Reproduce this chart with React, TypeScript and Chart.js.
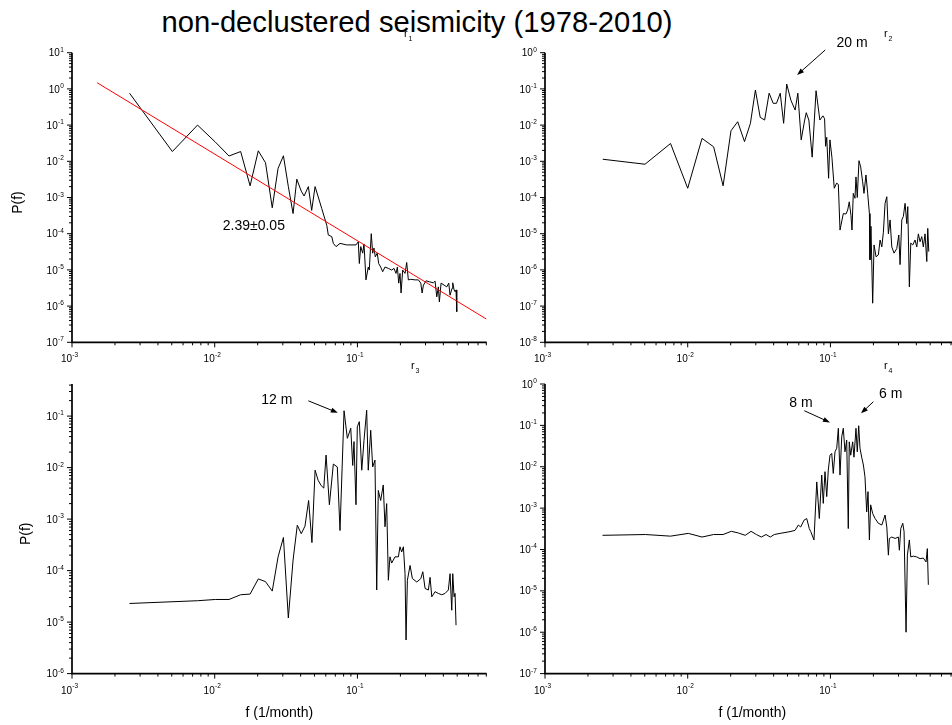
import React, { useEffect, useRef } from "react";
import { Chart, registerables } from "chart.js";

Chart.register(...registerables);

// ---------------- data ----------------
// r1 : power spectrum, with power-law fit
const p1Freq = [0.00253, 0.00505, 0.00758, 0.0101, 0.0126, 0.0152, 0.0177, 0.0202, 0.0227, 0.0253, 0.0278, 0.0303, 0.0328, 0.0354, 0.0376, 0.0404, 0.0423, 0.0453, 0.0478, 0.0505, 0.0562, 0.061, 0.0625, 0.0661, 0.0678, 0.0708, 0.0755, 0.0841, 0.0977, 0.1014, 0.1031, 0.1055, 0.1089, 0.1112, 0.1148, 0.1191, 0.1211, 0.125, 0.1279, 0.1306, 0.1334, 0.1377, 0.1409, 0.1455, 0.1503, 0.156, 0.1647, 0.1738, 0.1804, 0.1864, 0.1905, 0.1947, 0.1987, 0.2022, 0.2075, 0.2156, 0.2214, 0.2274, 0.2365, 0.2535, 0.2674, 0.278, 0.284, 0.29, 0.3028, 0.3193, 0.3405, 0.35, 0.3597, 0.369, 0.375, 0.3855, 0.4046, 0.4227, 0.4365, 0.4457, 0.4603, 0.4656, 0.4755, 0.4833, 0.4909, 0.4966];
const p1Power = [0.76, 0.0186, 0.1, 0.034, 0.014, 0.0186, 0.0021, 0.0195, 0.0091, 0.00052, 0.0064, 0.0142, 0.002, 0.00036, 0.0032, 0.0015, 0.0011, 0.002, 0.00044, 0.002, 0.0005, 0.00017, 9.2e-5, 8.3e-5, 5.4e-5, 4.4e-5, 5.4e-5, 4.9e-5, 4.9e-5, 6.0e-5, 1.5e-5, 4.4e-5, 2.9e-5, 5.2e-5, 5.3e-6, 1.2e-5, 9.9e-6, 1.0e-4, 2.9e-5, 4.0e-5, 2.3e-5, 2.9e-5, 1.5e-5, 1.2e-5, 8.9e-6, 1.2e-5, 1.1e-5, 9.9e-6, 1.1e-5, 8.0e-6, 1.2e-5, 4.3e-6, 8.0e-6, 2.3e-6, 9.9e-6, 8.0e-6, 1.6e-5, 5.3e-6, 5.5e-6, 5.3e-6, 5.3e-6, 4.3e-6, 2.3e-6, 3.8e-6, 5.0e-6, 4.7e-6, 4.4e-6, 4.9e-6, 1.8e-6, 3.4e-6, 1.3e-6, 4.3e-6, 3.8e-6, 3.4e-6, 4.3e-6, 2.0e-6, 3.1e-6, 4.4e-6, 2.8e-6, 2.5e-6, 2.8e-6, 7.0e-7];
const fitFreq = [0.0015, 0.8];
const fitPower = [1.48, 4.4e-7];

// r2
const p2Freq = [0.00254, 0.00502, 0.00758, 0.01, 0.0126, 0.0152, 0.0177, 0.0201, 0.0224, 0.025, 0.0275, 0.0298, 0.0322, 0.0346, 0.0372, 0.0397, 0.0419, 0.0445, 0.047, 0.0494, 0.0528, 0.0566, 0.0591, 0.0624, 0.066, 0.0677, 0.0706, 0.0745, 0.0793, 0.0843, 0.0886, 0.091, 0.0925, 0.0942, 0.0971, 0.0992, 0.1024, 0.1064, 0.1105, 0.1136, 0.1167, 0.1231, 0.1285, 0.1321, 0.1355, 0.1393, 0.1416, 0.1446, 0.1486, 0.151, 0.1542, 0.1585, 0.1629, 0.1682, 0.1718, 0.1774, 0.1824, 0.1875, 0.1893, 0.1923, 0.1977, 0.2021, 0.2088, 0.2167, 0.2228, 0.2291, 0.235, 0.2415, 0.2483, 0.2547, 0.2618, 0.2692, 0.2792, 0.2917, 0.3013, 0.3076, 0.3162, 0.3243, 0.3334, 0.3428, 0.3483, 0.3573, 0.3656, 0.3776, 0.3917, 0.4027, 0.4131, 0.4246, 0.4365, 0.4477, 0.4603, 0.4732, 0.4808, 0.4887];
const p2Power = [0.00114, 0.00083, 0.0031, 0.00018, 0.0043, 0.0025, 0.00021, 0.007, 0.0124, 0.0035, 0.0112, 0.093, 0.0164, 0.0138, 0.076, 0.04, 0.04, 0.076, 0.0112, 0.136, 0.049, 0.026, 0.076, 0.0039, 0.0138, 0.022, 0.0138, 0.0013, 0.089, 0.0138, 0.018, 0.015, 0.0026, 0.0046, 0.00034, 0.0039, 0.0013, 0.00018, 0.00025, 0.00023, 1.26e-5, 3.6e-5, 3.5e-5, 4.5e-5, 7.6e-5, 3.2e-5, 1.26e-5, 1.3e-4, 9.5e-5, 3.7e-4, 1.0e-4, 1.04e-3, 7e-4, 2.7e-4, 1.3e-4, 4.2e-4, 1.3e-4, 3.6e-5, 1.9e-6, 1.6e-5, 1.2e-7, 4.9e-6, 2.3e-6, 2.6e-6, 6.7e-6, 4.3e-6, 1.1e-5, 6.9e-5, 1.05e-4, 9.9e-6, 2.4e-5, 4.3e-6, 2.9e-6, 3.9e-6, 9.2e-6, 1.4e-6, 2.4e-5, 3.0e-5, 6.9e-5, 1.9e-5, 5.6e-5, 3.4e-7, 5.5e-6, 4.9e-6, 6.7e-6, 4.3e-6, 9.9e-6, 6.0e-6, 8.3e-6, 4.3e-6, 9.9e-6, 1.7e-6, 1.4e-5, 3.2e-6];

// r3
const p3Freq = [0.00253, 0.00758, 0.0101, 0.0126, 0.0152, 0.0177, 0.0202, 0.0227, 0.0253, 0.0278, 0.0303, 0.0328, 0.0354, 0.0379, 0.0404, 0.0429, 0.0455, 0.048, 0.0505, 0.053, 0.0556, 0.0581, 0.0603, 0.0636, 0.0678, 0.0723, 0.0755, 0.0806, 0.085, 0.0898, 0.0927, 0.0946, 0.0977, 0.0998, 0.1031, 0.1072, 0.1112, 0.1161, 0.1191, 0.1239, 0.1279, 0.1327, 0.1365, 0.14, 0.1455, 0.1517, 0.156, 0.1603, 0.1647, 0.169, 0.1738, 0.1834, 0.1936, 0.1987, 0.2042, 0.2099, 0.2156, 0.2191, 0.2239, 0.2338, 0.2427, 0.2606, 0.278, 0.2871, 0.2979, 0.3141, 0.3228, 0.3319, 0.35, 0.369, 0.3899, 0.4111, 0.4335, 0.4457, 0.4581, 0.4656, 0.4755, 0.4833, 0.4909];
const p3Power = [2.3e-5, 2.6e-5, 2.75e-5, 2.75e-5, 3.4e-5, 3.5e-5, 6.9e-5, 6.1e-5, 4.0e-5, 1.85e-4, 4.4e-4, 1.2e-5, 1.6e-4, 7.6e-4, 5.2e-4, 7.3e-4, 2.3e-3, 3.5e-4, 8.9e-3, 5.7e-3, 4.5e-3, 4.0e-3, 0.0175, 1.9e-3, 0.0117, 0.0103, 6e-4, 0.127, 0.037, 0.058, 0.011, 0.032, 1.9e-3, 0.062, 0.078, 0.0089, 0.034, 0.13, 0.0089, 0.053, 0.0103, 0.014, 4.2e-5, 3.6e-3, 2.3e-3, 4.6e-3, 7.1e-4, 2e-3, 6.5e-5, 1.85e-4, 1.4e-4, 1.85e-4, 1.85e-4, 2.9e-4, 2.3e-4, 2.9e-4, 8.7e-5, 4.5e-6, 6.5e-5, 1.26e-4, 7e-5, 6e-5, 7e-5, 9.5e-5, 4.5e-5, 4.2e-5, 7.4e-5, 3.1e-5, 3.9e-5, 3.6e-5, 3.4e-5, 3.6e-5, 4.2e-5, 8.7e-5, 1.7e-5, 8.7e-5, 3.1e-5, 3.6e-5, 8.7e-6];

// r4
const p4Freq = [0.00253, 0.00505, 0.00758, 0.0101, 0.0126, 0.0152, 0.0177, 0.0202, 0.0227, 0.0253, 0.0278, 0.0303, 0.0328, 0.0354, 0.0379, 0.0404, 0.0444, 0.0521, 0.0565, 0.0596, 0.0619, 0.0653, 0.0682, 0.0711, 0.0728, 0.0767, 0.0802, 0.0836, 0.0869, 0.0891, 0.0916, 0.0942, 0.0966, 0.0993, 0.1021, 0.1047, 0.1077, 0.1107, 0.1136, 0.1167, 0.12, 0.1231, 0.1265, 0.13, 0.1334, 0.1355, 0.1387, 0.1432, 0.1462, 0.151, 0.1542, 0.1578, 0.1611, 0.1656, 0.1702, 0.1746, 0.1795, 0.1834, 0.1875, 0.1914, 0.1977, 0.2056, 0.2167, 0.2291, 0.2415, 0.2483, 0.2547, 0.2588, 0.2692, 0.2838, 0.2992, 0.3041, 0.3112, 0.3213, 0.3281, 0.3388, 0.3461, 0.3573, 0.3656, 0.3811, 0.4027, 0.4246, 0.4477, 0.4677, 0.4775, 0.4853];
const p4Power = [2.2e-4, 2.3e-4, 2.1e-4, 2.45e-4, 2.0e-4, 2.3e-4, 2.3e-4, 2.75e-4, 2.5e-4, 2.2e-4, 2.75e-4, 2.3e-4, 2.0e-4, 2.3e-4, 2.0e-4, 2.3e-4, 2.45e-4, 2.7e-4, 2.9e-4, 3.9e-4, 3.5e-4, 5.1e-4, 5.6e-4, 3.2e-4, 2.7e-4, 1.7e-4, 4.3e-3, 5.6e-4, 6.3e-3, 1.3e-3, 7.6e-3, 1.9e-3, 8.3e-3, 0.019, 0.021, 6.9e-3, 0.023, 0.028, 0.085, 6.3e-3, 0.053, 0.085, 0.023, 0.044, 3.2e-4, 0.04, 0.019, 0.04, 0.017, 0.085, 0.023, 0.098, 0.028, 0.017, 0.011, 5.7e-3, 8.1e-4, 2.5e-3, 1.7e-4, 1.2e-3, 7.4e-4, 5.6e-4, 4.3e-4, 3.9e-4, 6.8e-4, 3.5e-4, 7.3e-5, 1.85e-4, 2.0e-4, 1.85e-4, 2.0e-4, 9.6e-5, 3.2e-4, 4.3e-4, 2.7e-4, 1.0e-6, 7.3e-5, 1.7e-4, 6.6e-5, 6.9e-5, 6.6e-5, 6.0e-5, 6.2e-5, 5.0e-5, 1.05e-4, 1.4e-5];

// axis ranges
const xRange = [1e-3, 0.805];
const yRange1 = [1e-7, 10];
const yRange2 = [1e-8, 1];
const yRange3 = [1e-6, 0.42];
const yRange4 = [1e-7, 1];

// annotations: text and arrows in data coordinates (f, P)
type Note = { text: string; f: number; p: number; arrow?: [number, number, number, number] };
const notes1: Note[] = [{ text: "2.39\u00B10.05", f: 0.0188, p: 1.66e-4 }];
const notes2: Note[] = [{ text: "20 m", f: 0.1416, p: 1.82, arrow: [0.092, 1.19, 0.0584, 0.242] }];
const notes3: Note[] = [{ text: "12 m", f: 0.0272, p: 0.205, arrow: [0.0453, 0.198, 0.0729, 0.116] }];
const notes4: Note[] = [
  { text: "8 m", f: 0.0622, p: 0.341, arrow: [0.0656, 0.226, 0.0993, 0.118] },
  { text: "6 m", f: 0.2646, p: 0.573, arrow: [0.2, 0.373, 0.1637, 0.195] },
];

const TITLE = "non-declustered seismicity (1978-2010)";
const Y_TITLE = "P(f)";
const X_TITLE = "f (1/month)";

// ---------------- layout ----------------
const FONT = "'Liberation Sans', Arial, Helvetica, sans-serif";
const PLOT_W = 414.7;
const PLOT_H = 289.6;
const CW = 507;
const CH = 395;

type Spec = {
  key: string;
  canvasLeft: number;
  canvasTop: number;
  padLeft: number;
  padTop: number;
  freq: number[];
  power: number[];
  yRange: number[];
  fitF?: number[];
  fitP?: number[];
  tag: string;
  tagDx: number;
  yTitleDx?: number;
  xTitle?: boolean;
  notes: Note[];
};

const specs: Spec[] = [
  { key: "1", canvasLeft: 0, canvasTop: 0, padLeft: 72, padTop: 52.7, freq: p1Freq, power: p1Power, yRange: yRange1, fitF: fitFreq, fitP: fitPower, tag: "1", tagDx: 332, yTitleDx: -53.7, notes: notes1 },
  { key: "2", canvasLeft: 473, canvasTop: 0, padLeft: 72, padTop: 52.7, freq: p2Freq, power: p2Power, yRange: yRange2, tag: "2", tagDx: 339, notes: notes2 },
  { key: "3", canvasLeft: 0, canvasTop: 331, padLeft: 72, padTop: 53, freq: p3Freq, power: p3Power, yRange: yRange3, tag: "3", tagDx: 339, yTitleDx: -46.2, xTitle: true, notes: notes3 },
  { key: "4", canvasLeft: 473, canvasTop: 331, padLeft: 72, padTop: 53, freq: p4Freq, power: p4Power, yRange: yRange4, tag: "4", tagDx: 339, xTitle: true, notes: notes4 },
];

function drawPow(ctx: CanvasRenderingContext2D, x: number, y: number, exp: string, mode: "x" | "y") {
  ctx.font = `10px ${FONT}`;
  const w1 = ctx.measureText("10").width;
  ctx.font = `6.5px ${FONT}`;
  const w2 = ctx.measureText(exp).width;
  ctx.textAlign = "left";
  ctx.textBaseline = "alphabetic";
  if (mode === "y") {
    const sx = x - w1 - w2;
    ctx.font = `10px ${FONT}`;
    ctx.fillText("10", sx, y + 3.6);
    ctx.font = `6.5px ${FONT}`;
    ctx.fillText(exp, sx + w1 + 0.3, y - 1);
  } else {
    const sx = x - w1;
    ctx.font = `10px ${FONT}`;
    ctx.fillText("10", sx, y + 6.6);
    ctx.font = `6.5px ${FONT}`;
    ctx.fillText(exp, sx + w1 + 0.3, y + 1.2);
  }
}

function makeDecor(spec: Spec) {
  return {
    id: "decor" + spec.key,
    afterDraw(chart: any) {
      const ctx: CanvasRenderingContext2D = chart.ctx;
      const xs = chart.scales.x;
      const ys = chart.scales.y;
      const { left, right, top, bottom } = chart.chartArea;
      ctx.save();
      ctx.strokeStyle = "#000";
      ctx.fillStyle = "#000";

      // axis lines
      ctx.lineWidth = 1.7;
      ctx.beginPath();
      ctx.moveTo(left, top);
      ctx.lineTo(left, bottom);
      ctx.lineTo(right, bottom);
      ctx.stroke();

      // ticks
      ctx.lineWidth = 1;
      const ticks = (scale: any, min: number, max: number, isX: boolean) => {
        const e0 = Math.floor(Math.log10(min) + 1e-9);
        const e1 = Math.ceil(Math.log10(max) - 1e-9);
        for (let e = e0; e <= e1; e++) {
          for (let k = 1; k <= 9; k++) {
            const v = k * Math.pow(10, e);
            if (v < min * 0.9999 || v > max * 1.0001) continue;
            const p = scale.getPixelForValue(v);
            const len = k === 1 ? 5 : 3;
            ctx.beginPath();
            if (isX) {
              ctx.moveTo(p, bottom);
              ctx.lineTo(p, bottom + len);
            } else {
              ctx.moveTo(left, p);
              ctx.lineTo(left - len, p);
            }
            ctx.stroke();
            if (k === 1) {
              if (isX) drawPow(ctx, p, bottom + 13.5, String(e), "x");
              else drawPow(ctx, left - 8.5, p, String(e), "y");
            }
          }
        }
      };
      ticks(xs, xRange[0], xRange[1], true);
      ticks(ys, spec.yRange[0], spec.yRange[1], false);

      // panel tag r_n
      ctx.textAlign = "left";
      ctx.textBaseline = "alphabetic";
      ctx.font = `11px ${FONT}`;
      ctx.fillText("r", left + spec.tagDx, top - 15.5);
      ctx.font = `7px ${FONT}`;
      ctx.fillText(spec.tag, left + spec.tagDx + 4.5, top - 11.5);

      // axis titles
      ctx.font = `14px ${FONT}`;
      ctx.textAlign = "center";
      ctx.textBaseline = "middle";
      if (spec.yTitleDx !== undefined) {
        ctx.save();
        ctx.translate(left + spec.yTitleDx, (top + bottom) / 2 + 5);
        ctx.rotate(-Math.PI / 2);
        ctx.fillText(Y_TITLE, 0, 0);
        ctx.restore();
      }
      if (spec.xTitle) {
        ctx.fillText(X_TITLE, (left + right) / 2, bottom + 40);
      }

      // annotations
      for (const n of spec.notes) {
        ctx.font = `14px ${FONT}`;
        ctx.textAlign = "center";
        ctx.textBaseline = "middle";
        ctx.fillText(n.text, xs.getPixelForValue(n.f), ys.getPixelForValue(n.p));
        if (n.arrow) {
          const x1 = xs.getPixelForValue(n.arrow[0]);
          const y1 = ys.getPixelForValue(n.arrow[1]);
          const x2 = xs.getPixelForValue(n.arrow[2]);
          const y2 = ys.getPixelForValue(n.arrow[3]);
          const a = Math.atan2(y2 - y1, x2 - x1);
          const hl = 7;
          const hw = 2.6;
          ctx.lineWidth = 1;
          ctx.beginPath();
          ctx.moveTo(x1, y1);
          ctx.lineTo(x2 - Math.cos(a) * hl * 0.8, y2 - Math.sin(a) * hl * 0.8);
          ctx.stroke();
          ctx.beginPath();
          ctx.moveTo(x2, y2);
          ctx.lineTo(x2 - Math.cos(a) * hl - Math.sin(a) * hw, y2 - Math.sin(a) * hl + Math.cos(a) * hw);
          ctx.lineTo(x2 - Math.cos(a) * hl + Math.sin(a) * hw, y2 - Math.sin(a) * hl - Math.cos(a) * hw);
          ctx.closePath();
          ctx.fill();
        }
      }
      ctx.restore();
    },
  };
}

function Panel({ spec }: { spec: Spec }) {
  const ref = useRef<HTMLCanvasElement>(null);
  useEffect(() => {
    if (!ref.current) return;
    const datasets: any[] = [];
    if (spec.fitF && spec.fitP) {
      datasets.push({
        data: spec.fitF.map((f, i) => ({ x: f, y: spec.fitP![i] })),
        borderColor: "#ff0000",
        borderWidth: 1,
        pointRadius: 0,
        tension: 0,
        fill: false,
      });
    }
    datasets.push({
      data: spec.freq.map((f, i) => ({ x: f, y: spec.power[i] })),
      borderColor: "#000000",
      borderWidth: 1,
      pointRadius: 0,
      tension: 0,
      fill: false,
    });
    const chart = new Chart(ref.current, {
      type: "line",
      data: { datasets },
      options: {
        animation: false,
        responsive: false,
        events: [],
        layout: {
          padding: {
            left: spec.padLeft,
            top: spec.padTop,
            right: CW - spec.padLeft - PLOT_W,
            bottom: CH - spec.padTop - PLOT_H,
          },
        },
        plugins: { legend: { display: false }, tooltip: { enabled: false }, title: { display: false } },
        scales: {
          x: { type: "logarithmic", min: xRange[0], max: xRange[1], display: false },
          y: { type: "logarithmic", min: spec.yRange[0], max: spec.yRange[1], display: false },
        },
      },
      plugins: [makeDecor(spec)],
    } as any);
    return () => chart.destroy();
  }, [spec]);
  return (
    <canvas
      ref={ref}
      width={CW}
      height={CH}
      style={{ position: "absolute", left: spec.canvasLeft, top: spec.canvasTop, width: CW, height: CH }}
    />
  );
}

export default function App() {
  return (
    <div
      style={{
        position: "absolute",
        left: 0,
        top: 0,
        width: 952,
        height: 725,
        overflow: "hidden",
        background: "#fff",
      }}
    >
      <div
        style={{
          position: "absolute",
          left: 0,
          top: 6.5,
          width: 834,
          textAlign: "center",
          fontFamily: FONT,
          fontSize: 29.2,
          lineHeight: "30px",
          whiteSpace: "nowrap",
          color: "#000",
        }}
      >
        {TITLE}
      </div>
      {specs.map((s) => (
        <Panel key={s.key} spec={s} />
      ))}
    </div>
  );
}
